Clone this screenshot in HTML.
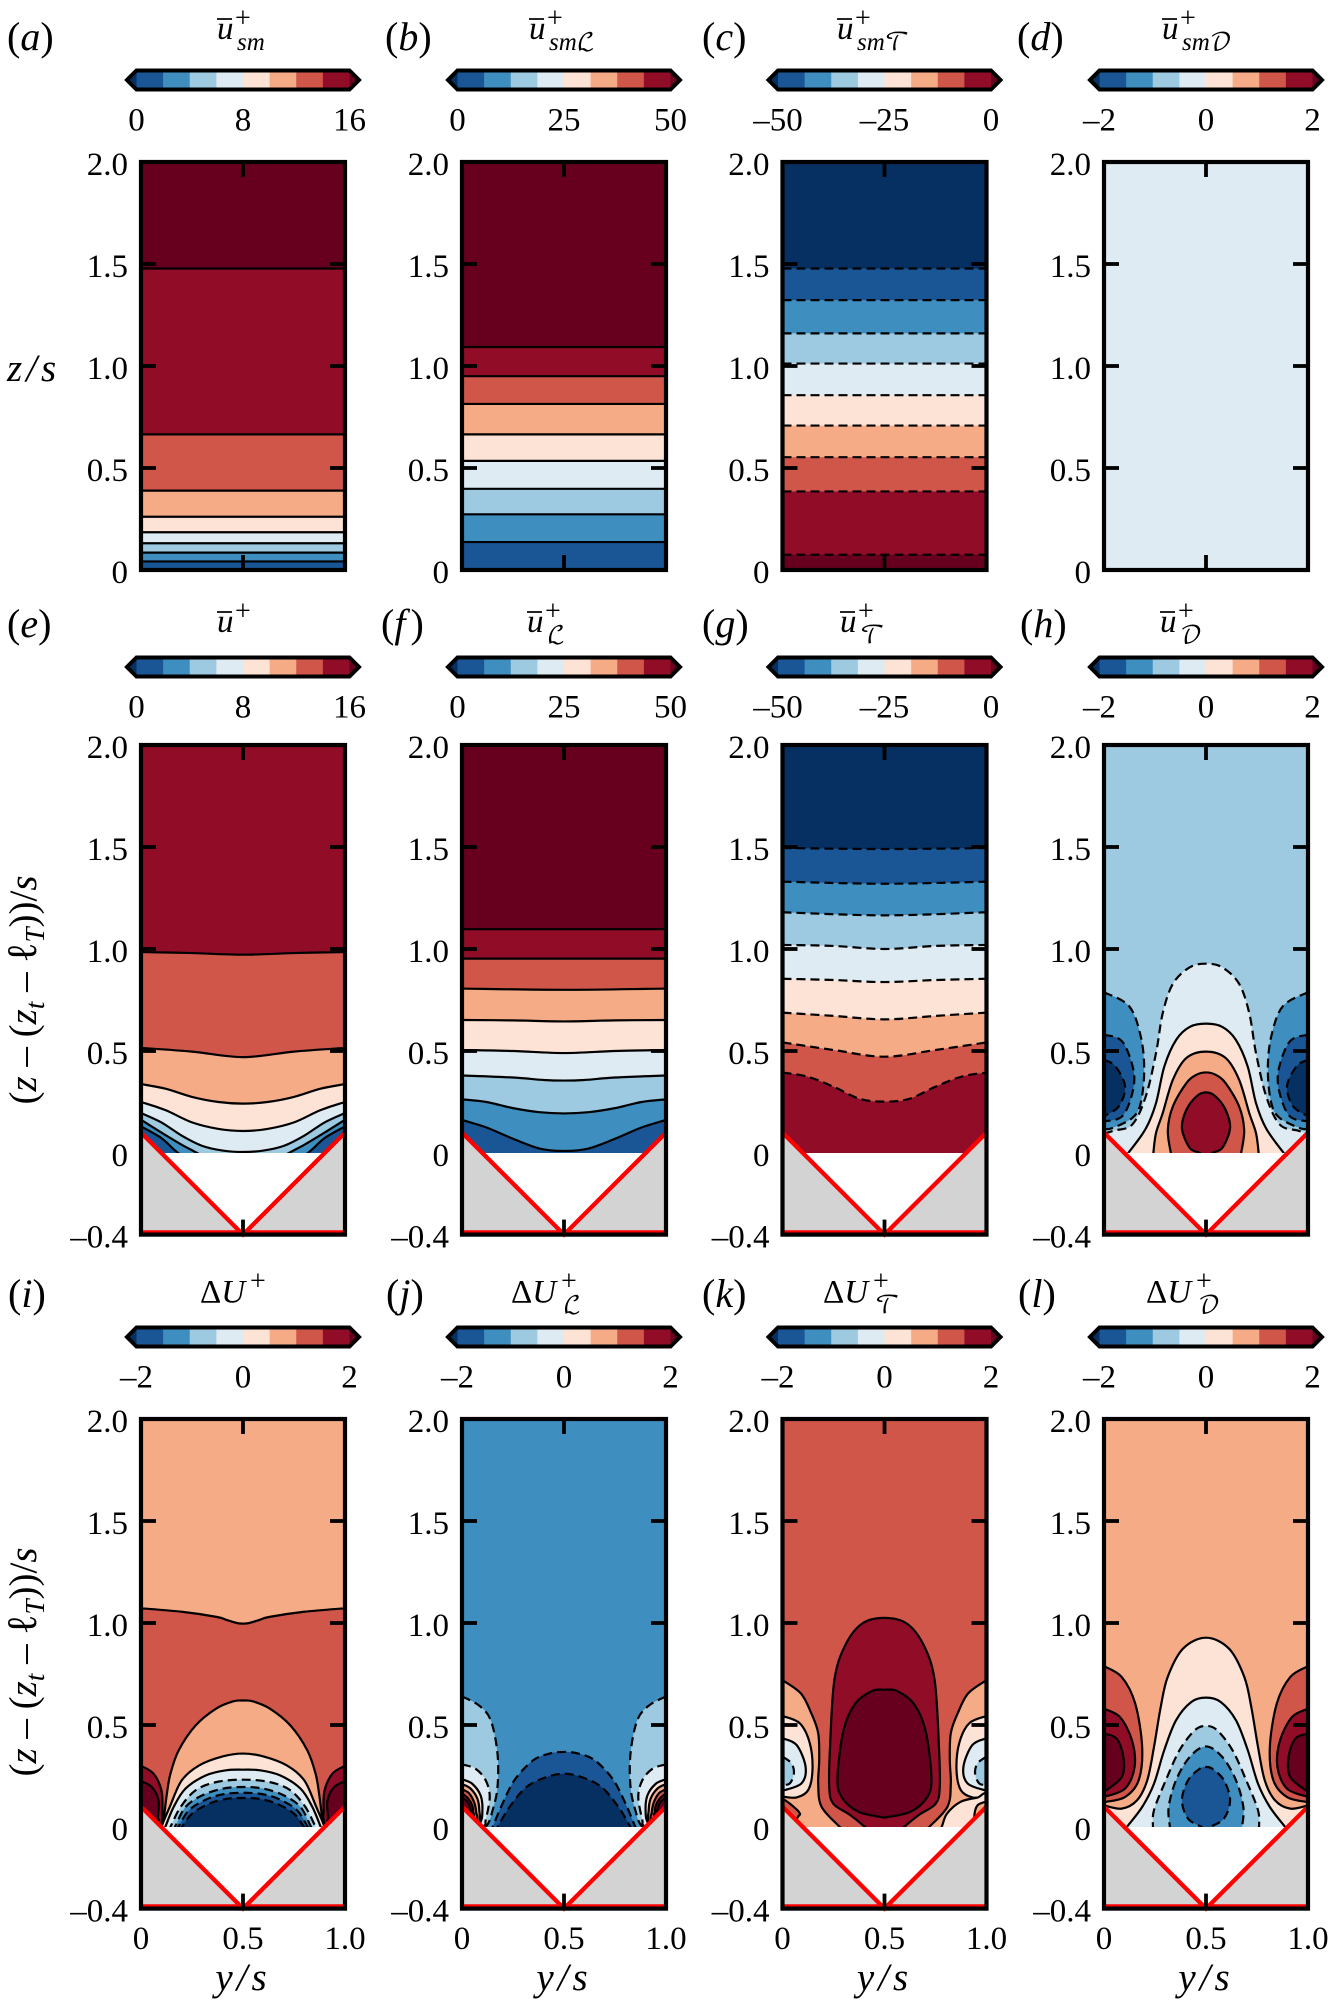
<!DOCTYPE html>
<html lang="en">
<head>
<meta charset="utf-8">
<title>Mean velocity contour panels</title>
<style>
html,body{margin:0;padding:0;background:#fff;}
svg{display:block;font-family:"Liberation Serif","DejaVu Serif","DejaVu Sans",serif;fill:#000;}
.i{font-style:italic;}
.cal{font-style:normal;font-family:"DejaVu Math TeX Gyre","DejaVu Serif","DejaVu Sans","Liberation Serif",serif;}
</style>
</head>
<body>
<svg id="fig" xmlns="http://www.w3.org/2000/svg" width="1329" height="2002" viewBox="0 0 1329 2002">
  <g id="plots"></g>
  <g font-size="40">
    <text x="7" y="50">(<tspan class="i">a</tspan>)</text>
    <text x="385" y="50">(<tspan class="i">b</tspan>)</text>
    <text x="702" y="50">(<tspan class="i">c</tspan>)</text>
    <text x="1017" y="50">(<tspan class="i">d</tspan>)</text>
    <text x="7" y="637">(<tspan class="i">e</tspan>)</text>
    <text x="381" y="637">(<tspan class="i">f</tspan><tspan dx="5">)</tspan></text>
    <text x="702" y="637">(<tspan class="i">g</tspan>)</text>
    <text x="1020" y="637">(<tspan class="i">h</tspan>)</text>
    <text x="8" y="1307">(<tspan class="i">i</tspan>)</text>
    <text x="386" y="1307">(<tspan class="i">j</tspan>)</text>
    <text x="702" y="1307">(<tspan class="i">k</tspan>)</text>
    <text x="1018" y="1307">(<tspan class="i">l</tspan>)</text>
  </g>
  <g font-size="33">
    <g><line x1="217" x2="232" y1="19" y2="19" stroke="#000" stroke-width="1.7"/><text x="217" y="39" class="i">u</text><text x="235" y="27" font-size="28">+</text><text x="237" y="50" font-size="25" class="i">sm</text></g>
    <g><line x1="529" x2="544" y1="19" y2="19" stroke="#000" stroke-width="1.7"/><text x="529" y="39" class="i">u</text><text x="547" y="27" font-size="28">+</text><text x="549" y="50" font-size="25"><tspan class="i">sm</tspan><tspan class="cal" font-size="24">ℒ</tspan></text></g>
    <g><line x1="837" x2="852" y1="19" y2="19" stroke="#000" stroke-width="1.7"/><text x="837" y="39" class="i">u</text><text x="855" y="27" font-size="28">+</text><text x="857" y="50" font-size="25"><tspan class="i">sm</tspan><tspan class="cal" font-size="24">𝒯</tspan></text></g>
    <g><line x1="1162" x2="1177" y1="19" y2="19" stroke="#000" stroke-width="1.7"/><text x="1162" y="39" class="i">u</text><text x="1180" y="27" font-size="28">+</text><text x="1182" y="50" font-size="25"><tspan class="i">sm</tspan><tspan class="cal" font-size="24">𝒟</tspan></text></g>
    <g><line x1="217" x2="232" y1="612" y2="612" stroke="#000" stroke-width="1.7"/><text x="217" y="632" class="i">u</text><text x="235" y="620" font-size="28">+</text></g>
    <g><line x1="527" x2="542" y1="612" y2="612" stroke="#000" stroke-width="1.7"/><text x="527" y="632" class="i">u</text><text x="545" y="620" font-size="28">+</text><text x="547" y="643" font-size="24" class="cal">ℒ</text></g>
    <g><line x1="840" x2="855" y1="612" y2="612" stroke="#000" stroke-width="1.7"/><text x="840" y="632" class="i">u</text><text x="858" y="620" font-size="28">+</text><text x="860" y="643" font-size="24" class="cal">𝒯</text></g>
    <g><line x1="1160" x2="1175" y1="612" y2="612" stroke="#000" stroke-width="1.7"/><text x="1160" y="632" class="i">u</text><text x="1178" y="620" font-size="28">+</text><text x="1180" y="643" font-size="24" class="cal">𝒟</text></g>
    <g><text x="200" y="1302.5">Δ<tspan class="i">U</tspan></text><text x="250" y="1290" font-size="28">+</text></g>
    <g><text x="511" y="1302.5">Δ<tspan class="i">U</tspan></text><text x="561" y="1290" font-size="28">+</text><text x="563" y="1313" font-size="24" class="cal">ℒ</text></g>
    <g><text x="823" y="1302.5">Δ<tspan class="i">U</tspan></text><text x="873" y="1290" font-size="28">+</text><text x="875" y="1313" font-size="24" class="cal">𝒯</text></g>
    <g><text x="1146" y="1302.5">Δ<tspan class="i">U</tspan></text><text x="1196" y="1290" font-size="28">+</text><text x="1198" y="1313" font-size="24" class="cal">𝒟</text></g>
  </g>
  <g font-size="39">
    <text x="7" y="381" class="i" letter-spacing="4">z/s</text>
    <text transform="translate(36,990) rotate(-90)" text-anchor="middle">(<tspan class="i">z</tspan> – (<tspan class="i">z</tspan><tspan class="i" font-size="27" dy="8">t</tspan><tspan dy="-8"> – </tspan><tspan font-size="42">ℓ</tspan><tspan class="i" font-size="27" dy="8">T</tspan><tspan dy="-8">))/</tspan><tspan class="i">s</tspan></text>
    <text transform="translate(36,1662) rotate(-90)" text-anchor="middle">(<tspan class="i">z</tspan> – (<tspan class="i">z</tspan><tspan class="i" font-size="27" dy="8">t</tspan><tspan dy="-8"> – </tspan><tspan font-size="42">ℓ</tspan><tspan class="i" font-size="27" dy="8">T</tspan><tspan dy="-8">))/</tspan><tspan class="i">s</tspan></text>
    <text x="243" y="1990" text-anchor="middle" class="i" letter-spacing="4">y/s</text>
    <text x="564" y="1990" text-anchor="middle" class="i" letter-spacing="4">y/s</text>
    <text x="884.5" y="1990" text-anchor="middle" class="i" letter-spacing="4">y/s</text>
    <text x="1206" y="1990" text-anchor="middle" class="i" letter-spacing="4">y/s</text>
  </g>
</svg>
<script>
// ---- axis tick values and labels ----
const yTicksSmooth = [2, 1.5, 1, 0.5, 0];
const yTicksRough = [2, 1.5, 1, 0.5, -0.4];
const yLabelValuesSmooth = [2, 1.5, 1, 0.5, 0];
const yLabelTextSmooth = ['2.0', '1.5', '1.0', '0.5', '0'];
const yLabelValuesRough = [2, 1.5, 1, 0.5, 0, -0.4];
const yLabelTextRough = ['2.0', '1.5', '1.0', '0.5', '0', '–0.4'];
const xTicks = [0, 0.5, 1];
const xTickText = ['0', '0.5', '1.0'];

// ---- colourbar ticks ----
const cbTicks16 = [0, 8, 16];
const cbTicks50 = [0, 25, 50];
const cbTicksNeg50 = [-50, -25, 0];
const cbTicks2 = [-2, 0, 2];

// ---- roughness wedge geometry, data units ----
const wedgeY = [0, 0.5, 1];
const wedgeZ = [0.1, -0.4, 0.1];

// ---- smooth-wall panels: contour heights and bin indices, top to bottom ----
const levelsA = [1.478, 0.665, 0.389, 0.261, 0.185, 0.131, 0.085, 0.042];
const binsA = [9, 8, 7, 6, 5, 4, 3, 2, 1];
const levelsB = [1.093, 0.95, 0.814, 0.665, 0.535, 0.398, 0.273, 0.137];
const binsB = [9, 8, 7, 6, 5, 4, 3, 2, 1];
const levelsC = [1.478, 1.323, 1.16, 1.012, 0.857, 0.708, 0.553, 0.385, 0.075];
const binsC = [0, 1, 2, 3, 4, 5, 6, 7, 8, 9];
const levelsD = [];
const binsD = [4];

// ---- rough-wall panels: contour paths [y/s, z/s]
// kind s: half curve mirrored about y/s=0.5, m: wall lobe drawn on both walls, o: drawn once
const contoursE = [
 {bin:7,kind:'s',pts:[[0,.985],[.25,.98],[.5,.972]]},
 {bin:6,kind:'s',pts:[[0,.515],[.25,.497],[.5,.47]]},
 {bin:5,kind:'s',pts:[[0,.338],[.12,.315],[.25,.275],[.38,.25],[.5,.242]]},
 {bin:4,kind:'s',pts:[[0,.25],[.12,.21],[.25,.15],[.38,.118],[.5,.108]]},
 {bin:3,kind:'s',pts:[[0,.196],[.1,.15],[.2,.085],[.3,.035],[.4,.012],[.5,.005]]},
 {bin:2,kind:'s',pts:[[0,.163],[.1,.1],[.2,.04],[.275,0],[.36,-.05],[.5,-.08]]},
 {bin:1,kind:'s',pts:[[0,.13],[.1,.073],[.182,0],[.3,-.08],[.5,-.1]]}
];
const contoursF = [
 {bin:8,kind:'s',pts:[[0,1.097],[.5,1.097]]},
 {bin:7,kind:'s',pts:[[0,.953],[.5,.953]]},
 {bin:6,kind:'s',pts:[[0,.806],[.5,.8]]},
 {bin:5,kind:'s',pts:[[0,.652],[.25,.65],[.5,.645]]},
 {bin:4,kind:'s',pts:[[0,.505],[.25,.5],[.5,.49]]},
 {bin:3,kind:'s',pts:[[0,.38],[.25,.37],[.4,.358],[.5,.355]]},
 {bin:2,kind:'s',pts:[[0,.263],[.12,.25],[.25,.22],[.38,.2],[.5,.194]]},
 {bin:1,kind:'s',pts:[[0,.162],[.12,.125],[.25,.07],[.38,.022],[.5,.01]]}
];
const contoursG = [
 {bin:1,kind:'s',dash:true,pts:[[0,1.495],[.5,1.49]]},
 {bin:2,kind:'s',dash:true,pts:[[0,1.33],[.5,1.32]]},
 {bin:3,kind:'s',dash:true,pts:[[0,1.18],[.5,1.165]]},
 {bin:4,kind:'s',dash:true,pts:[[0,1.02],[.25,1.015],[.5,1.0]]},
 {bin:5,kind:'s',dash:true,pts:[[0,.854],[.25,.848],[.5,.838]]},
 {bin:6,kind:'s',dash:true,pts:[[0,.688],[.25,.672],[.5,.655]]},
 {bin:7,kind:'s',dash:true,pts:[[0,.542],[.25,.505],[.5,.472]]},
 {bin:8,kind:'s',dash:true,pts:[[0,.394],[.12,.375],[.25,.325],[.38,.265],[.5,.252]]}
];
const contoursH = [
 {bin:4,kind:'s',dash:true,pts:[[0,.095],[.05,.11],[.139,.14],[.205,.278],[.255,.49],[.288,.686],[.338,.83],[.42,.91],[.5,.928]]},
 {bin:5,kind:'s',pts:[[.1,-.02],[.119,0],[.205,.12],[.255,.245],[.296,.425],[.354,.555],[.42,.618],[.5,.634]]},
 {bin:6,kind:'s',pts:[[.242,-.02],[.242,0],[.255,.098],[.288,.196],[.338,.36],[.404,.466],[.5,.497]]},
 {bin:7,kind:'s',pts:[[.34,-.02],[.328,0],[.313,.114],[.338,.229],[.404,.343],[.454,.384],[.5,.395]]},
 {bin:8,kind:'s',pts:[[.48,-.02],[.47,0],[.42,.025],[.382,.122],[.404,.212],[.454,.278],[.5,.297]]},
 {bin:2,kind:'m',dash:true,pts:[[0,.788],[.123,.72],[.18,.572],[.197,.408],[.18,.245],[.139,.172],[.04,.122],[0,.118]]},
 {bin:1,kind:'m',dash:true,pts:[[0,.58],[.089,.547],[.144,.408],[.139,.294],[.089,.18],[0,.155]]},
 {bin:0,kind:'m',dash:true,pts:[[0,.457],[.056,.425],[.103,.327],[.073,.229],[0,.18]]}
];
const contoursI = [
 {bin:7,kind:'s',pts:[[0,1.072],[.2,1.055],[.37,1.03],[.42,1.015],[.47,1.0],[.5,.997]]},
 {bin:8,kind:'m',pts:[[0,.3],[.061,.262],[.1,.18],[.105,.08],[.095,.01],[0,-.1]]},
 {bin:9,kind:'m',pts:[[0,.225],[.053,.196],[.086,.13],[.083,.05],[.08,.02],[0,-.1]]},
 {bin:6,kind:'s',pts:[[.1,-.02],[.11,.03],[.127,.163],[.144,.26],[.185,.376],[.268,.498],[.368,.58],[.452,.616],[.5,.62]]},
 {bin:5,kind:'s',pts:[[.1,-.02],[.103,.008],[.144,.106],[.2,.229],[.285,.302],[.4,.346],[.5,.36]]},
 {bin:4,kind:'s',pts:[[.11,-.02],[.119,0],[.16,.098],[.218,.188],[.318,.253],[.417,.278],[.5,.281]]},
 {bin:3,kind:'s',dash:true,pts:[[.13,-.02],[.144,0],[.194,.098],[.268,.18],[.368,.22],[.5,.232]]},
 {bin:2,kind:'s',dash:true,pts:[[.15,-.02],[.166,0],[.218,.098],[.3,.155],[.4,.188],[.5,.196]]},
 {bin:1,kind:'s',dash:true,pts:[[.165,-.02],[.182,0],[.235,.082],[.318,.134],[.4,.16],[.5,.168]]},
 {bin:0,kind:'s',dash:true,pts:[[.185,-.02],[.2,0],[.25,.065],[.334,.114],[.42,.138],[.5,.142]]}
];
const contoursJ = [
 {bin:1,kind:'s',dash:true,pts:[[.13,-.03],[.15,0],[.191,.098],[.257,.229],[.349,.327],[.43,.36],[.5,.368]]},
 {bin:0,kind:'s',dash:true,pts:[[.155,-.03],[.174,0],[.233,.098],[.316,.196],[.415,.245],[.5,.261]]},
 {bin:3,kind:'m',dash:true,pts:[[0,.64],[.083,.596],[.141,.523],[.174,.36],[.174,.196],[.15,.082],[.116,0],[0,-.1]]},
 {bin:4,kind:'m',dash:true,pts:[[0,.307],[.066,.286],[.116,.229],[.136,.147],[.116,.033],[.105,0],[0,-.1]]},
 {bin:5,kind:'m',pts:[[0,.234],[.05,.212],[.091,.155],[.1,.08],[.085,.012],[0,-.1]]},
 {bin:6,kind:'m',pts:[[0,.21],[.04,.19],[.075,.14],[.085,.08],[.08,.02],[0,-.1]]},
 {bin:7,kind:'m',pts:[[0,.185],[.035,.165],[.06,.12],[.07,.07],[.07,.03],[0,-.1]]},
 {bin:8,kind:'m',pts:[[0,.165],[.03,.14],[.05,.105],[.055,.07],[.055,.045],[0,-.1]]},
 {bin:9,kind:'m',pts:[[0,.145],[.025,.125],[.04,.09],[.04,.06],[0,-.1]]}
];
const contoursK = [
 {bin:6,kind:'m',pts:[[0,.72],[.09,.655],[.14,.56],[.175,.46],[.18,.33],[.175,.214],[.191,.1],[.281,0],[.3,-.02],[0,-.2]]},
 {bin:5,kind:'m',pts:[[0,.544],[.085,.508],[.134,.41],[.147,.28],[.126,.181],[.069,.145],[0,.149]]},
 {bin:4,kind:'m',pts:[[0,.435],[.069,.402],[.113,.296],[.093,.214],[0,.178]]},
 {bin:3,kind:'m',dash:true,pts:[[0,.345],[.044,.312],[.056,.263],[.036,.214],[0,.206]]},
 {bin:5,kind:'o',pts:[[.76,-.03],[.78,0],[.806,.065],[.872,.123],[.955,.144],[1,.147],[1,-.1]]},
 {bin:7,kind:'o',pts:[[0,.14],[.044,.108],[.085,.067],[.07,.04],[0,-.1]]},
 {bin:6,kind:'o',pts:[[1,.125],[.955,.105],[.94,.05],[.95,.03],[1,-.1]]},
 {bin:8,kind:'s',pts:[[.42,-.02],[.404,0],[.33,.06],[.249,.114],[.229,.196],[.233,.392],[.254,.719],[.307,.89],[.39,.997],[.5,1.025]]},
 {bin:9,kind:'s',pts:[[.5,.046],[.374,.074],[.29,.147],[.27,.245],[.299,.474],[.357,.605],[.44,.667],[.5,.673]]}
];
const contoursL = [
 {bin:5,kind:'s',pts:[[0,.106],[.087,.09],[.162,.131],[.212,.229],[.245,.392],[.278,.588],[.312,.735],[.387,.874],[.5,.928]]},
 {bin:4,kind:'s',pts:[[.1,-.02],[.112,0],[.187,.098],[.245,.212],[.295,.376],[.353,.523],[.428,.613],[.5,.634]]},
 {bin:3,kind:'s',dash:true,pts:[[.24,-.02],[.24,0],[.245,.082],[.303,.229],[.37,.376],[.445,.474],[.5,.495]]},
 {bin:2,kind:'s',dash:true,pts:[[.325,-.02],[.323,0],[.317,.098],[.353,.229],[.42,.343],[.5,.395]]},
 {bin:1,kind:'s',dash:true,pts:[[.49,-.02],[.478,0],[.412,.041],[.382,.131],[.412,.229],[.47,.286],[.5,.294]]},
 {bin:7,kind:'m',pts:[[0,.788],[.087,.735],[.153,.605],[.187,.392],[.17,.229],[.103,.147],[0,.122]]},
 {bin:8,kind:'m',pts:[[0,.58],[.078,.539],[.137,.425],[.15,.294],[.103,.188],[0,.147]]},
 {bin:9,kind:'m',pts:[[0,.458],[.062,.433],[.095,.343],[.087,.245],[0,.172]]}
];

// ---- panel table ----
const panels = [
 {id:'a',row:0,col:0,cbMin:0,cbMax:16,cbTicks:cbTicks16,levels:levelsA,bins:binsA},
 {id:'b',row:0,col:1,cbMin:0,cbMax:50,cbTicks:cbTicks50,levels:levelsB,bins:binsB},
 {id:'c',row:0,col:2,cbMin:-50,cbMax:0,cbTicks:cbTicksNeg50,levels:levelsC,bins:binsC,dash:true},
 {id:'d',row:0,col:3,cbMin:-2,cbMax:2,cbTicks:cbTicks2,levels:levelsD,bins:binsD},
 {id:'e',row:1,col:0,cbMin:0,cbMax:16,cbTicks:cbTicks16,base:8,contours:contoursE},
 {id:'f',row:1,col:1,cbMin:0,cbMax:50,cbTicks:cbTicks50,base:9,contours:contoursF},
 {id:'g',row:1,col:2,cbMin:-50,cbMax:0,cbTicks:cbTicksNeg50,base:0,contours:contoursG},
 {id:'h',row:1,col:3,cbMin:-2,cbMax:2,cbTicks:cbTicks2,base:3,contours:contoursH},
 {id:'i',row:2,col:0,cbMin:-2,cbMax:2,cbTicks:cbTicks2,base:6,contours:contoursI},
 {id:'j',row:2,col:1,cbMin:-2,cbMax:2,cbTicks:cbTicks2,base:2,contours:contoursJ},
 {id:'k',row:2,col:2,cbMin:-2,cbMax:2,cbTicks:cbTicks2,base:7,contours:contoursK},
 {id:'l',row:2,col:3,cbMin:-2,cbMax:2,cbTicks:cbTicks2,base:6,contours:contoursL}
];

// ---- layout and style (not data) ----
const palette = ['#053061','#1a5696','#3f8ec0','#9dcae1','#deebf2','#fce3d5','#f6ab87','#d1564a','#900c27','#67001f'];
const UNIT = 204;
const colLeft = [141, 462, 782.5, 1104];
const rowZero = [570, 1153, 1827];
const rowShift = [0, 587, 1257];
const NS = 'http://www.w3.org/2000/svg';
const root = document.getElementById('plots');

function make(tag, attrs, parent, text) {
  const node = document.createElementNS(NS, tag);
  for (const k in attrs) node.setAttribute(k, attrs[k]);
  if (text !== undefined) node.textContent = text;
  parent.appendChild(node);
  return node;
}
function xAxis(col) { return y => colLeft[col] + y * UNIT; }
function zAxis(row) { return z => rowZero[row] - z * UNIT; }

function spline(points) {
  if (points.length < 3) return points.map((p, i) => (i ? 'L' : 'M') + p[0].toFixed(2) + ' ' + p[1].toFixed(2)).join('');
  let d = 'M' + points[0][0].toFixed(2) + ' ' + points[0][1].toFixed(2);
  for (let i = 0; i < points.length - 1; i++) {
    const p0 = points[i - 1] || points[i], p1 = points[i], p2 = points[i + 1], p3 = points[i + 2] || p2;
    const c1x = p1[0] + (p2[0] - p0[0]) / 6, c1y = p1[1] + (p2[1] - p0[1]) / 6;
    const c2x = p2[0] - (p3[0] - p1[0]) / 6, c2y = p2[1] - (p3[1] - p1[1]) / 6;
    d += 'C' + c1x.toFixed(2) + ' ' + c1y.toFixed(2) + ' ' + c2x.toFixed(2) + ' ' + c2y.toFixed(2) + ' ' + p2[0].toFixed(2) + ' ' + p2[1].toFixed(2);
  }
  return d;
}

function drawCurve(group, pts, bin, dash, below, X, Z) {
  const px = pts.map(p => [X(p[0]), Z(p[1])]);
  const d = spline(px);
  const closing = below
    ? 'L' + px[px.length - 1][0].toFixed(2) + ' ' + Z(-1) + 'L' + px[0][0].toFixed(2) + ' ' + Z(-1) + 'Z'
    : 'Z';
  const fill = make('path', {d: d + closing, fill: palette[bin], stroke: 'none'}, group);
  
  
  const attrs = {d: d, fill: 'none', stroke: '#000', 'stroke-width': 2.2};
  if (dash) attrs['stroke-dasharray'] = '9 5';
  const line = make('path', attrs, group);
  
  
}

function drawColorbar(group, p) {
  const cx = colLeft[p.col] + UNIT / 2;
  const shift = rowShift[p.row];
  const left = cx - 106.5, right = cx + 106.5, top = 70.5 + shift, bot = 89.5 + shift, mid = 80 + shift;
  const cbScale = v => left + (v - p.cbMin) / (p.cbMax - p.cbMin) * (right - left);
  const cb = make('g', {}, group);
  
  
  const seg = (right - left) / 8;
  for (let i = 0; i < 8; i++) {
    const r = make('rect', {x: left + i * seg, y: top, width: seg + 0.4, height: bot - top, fill: palette[i + 1]}, cb);
    
    
  }
  const tipL = make('polygon', {points: [left, top, left, bot, left - 9.5, mid].join(' '), fill: palette[0]}, cb);
  
  
  const tipR = make('polygon', {points: [right, top, right, bot, right + 9.5, mid].join(' '), fill: palette[9]}, cb);
  
  
  const outlinePts = [left, top, right, top, right + 9.5, mid, right, bot, left, bot, left - 9.5, mid].join(' ');
  const outline = make('polygon', {points: outlinePts, fill: 'none', stroke: '#000', 'stroke-width': 4}, cb);
  
  
  p.cbTicks.forEach(v => {
    const label = String(v).replace('-', '–');
    const t = make('text', {x: cbScale(v), y: 130.5 + shift, 'text-anchor': 'middle', 'font-size': 33}, cb, label);
    
    
  });
}

function drawPanel(p) {
  const X = xAxis(p.col), Z = zAxis(p.row);
  const rough = p.row > 0;
  const group = make('g', {}, root);
  
  
  drawColorbar(group, p);

  const zBottom = rough ? wedgeZ[1] : 0;
  const clip = make('clipPath', {id: 'clip-' + p.id}, group);
  const outline = rough
    ? [[0, 2], [1, 2], [1, wedgeZ[2]], [1 - wedgeZ[2], 0], [wedgeZ[0], 0], [0, wedgeZ[0]]]
    : [[0, 2], [1, 2], [1, 0], [0, 0]];
  make('polygon', {points: outline.map(q => X(q[0]) + ',' + Z(q[1])).join(' ')}, clip);

  const field = make('g', {'clip-path': 'url(#clip-' + p.id + ')'}, group);
  
  

  if (!rough) {
    const bg = make('rect', {x: X(0), y: Z(2), width: X(1) - X(0), height: Z(0) - Z(2), fill: palette[p.bins[0]]}, field);
    
    
    p.levels.forEach((lev, i) => {
      drawCurve(field, [[0, lev], [1, lev]], p.bins[i + 1], !!p.dash, true, X, Z);
    });
  } else {
    const bg = make('rect', {x: X(0), y: Z(2), width: X(1) - X(0), height: Z(-0.4) - Z(2), fill: palette[p.base]}, field);
    
    
    p.contours.forEach(c => {
      if (c.kind === 's') {
        const full = c.pts.concat(c.pts.slice(0, -1).reverse().map(q => [1 - q[0], q[1]]));
        drawCurve(field, full, c.bin, !!c.dash, true, X, Z);
      } else if (c.kind === 'm') {
        drawCurve(field, c.pts, c.bin, !!c.dash, false, X, Z);
        drawCurve(field, c.pts.map(q => [1 - q[0], q[1]]), c.bin, !!c.dash, false, X, Z);
      } else {
        drawCurve(field, c.pts, c.bin, !!c.dash, false, X, Z);
      }
    });
    // wedge: grey solid either side of the V groove, red outline on top
    const grayL = make('polygon', {points: [X(wedgeY[0]) + ',' + Z(wedgeZ[0]), X(wedgeY[1]) + ',' + Z(wedgeZ[1]), X(wedgeY[0]) + ',' + Z(wedgeZ[1])].join(' '), fill: '#d3d3d3'}, group);
    
    
    const grayR = make('polygon', {points: [X(wedgeY[2]) + ',' + Z(wedgeZ[2]), X(wedgeY[1]) + ',' + Z(wedgeZ[1]), X(wedgeY[2]) + ',' + Z(wedgeZ[1])].join(' '), fill: '#d3d3d3'}, group);
    
    
    const vee = make('polyline', {points: wedgeY.map((y, i) => X(y) + ',' + Z(wedgeZ[i])).join(' '), fill: 'none', stroke: '#ff0000', 'stroke-width': 4.3}, group);
    
    
    const floor = make('line', {x1: X(0), x2: X(1), y1: Z(wedgeZ[1]) - 2.6, y2: Z(wedgeZ[1]) - 2.6, stroke: '#ff0000', 'stroke-width': 3.6}, group);
    
    
  }

  // ticks
  const ticks = rough ? yTicksRough : yTicksSmooth;
  ticks.forEach(v => {
    const a = make('line', {x1: X(0), x2: X(0) + 15, y1: Z(v), y2: Z(v), stroke: '#000', 'stroke-width': 3.8}, group);
    
    
    const b = make('line', {x1: X(1), x2: X(1) - 15, y1: Z(v), y2: Z(v), stroke: '#000', 'stroke-width': 3.8}, group);
    
    
  });
  xTicks.forEach(v => {
    const a = make('line', {x1: X(v), x2: X(v), y1: Z(2), y2: Z(2) + 15, stroke: '#000', 'stroke-width': 3.8}, group);
    
    
    const b = make('line', {x1: X(v), x2: X(v), y1: Z(zBottom), y2: Z(zBottom) - 15, stroke: '#000', 'stroke-width': 3.8}, group);
    
    
  });

  const frame = make('rect', {x: X(0), y: Z(2), width: X(1) - X(0), height: Z(zBottom) - Z(2), fill: 'none', stroke: '#000', 'stroke-width': 4.2}, group);
  
  

  // y labels
  const labelValues = rough ? yLabelValuesRough : yLabelValuesSmooth;
  const labelText = rough ? yLabelTextRough : yLabelTextSmooth;
  labelValues.forEach((v, i) => {
    const t = make('text', {x: X(0) - 13, y: Z(v) + 13, 'text-anchor': 'end', 'font-size': 33}, group, labelText[i]);
    
    
  });
  if (p.row === 2) {
    xTicks.forEach((v, i) => {
      const t = make('text', {x: X(v), y: 1949, 'text-anchor': 'middle', 'font-size': 33}, group, xTickText[i]);
      
      
    });
  }
}
panels.forEach(drawPanel);
</script>
</body>
</html>
